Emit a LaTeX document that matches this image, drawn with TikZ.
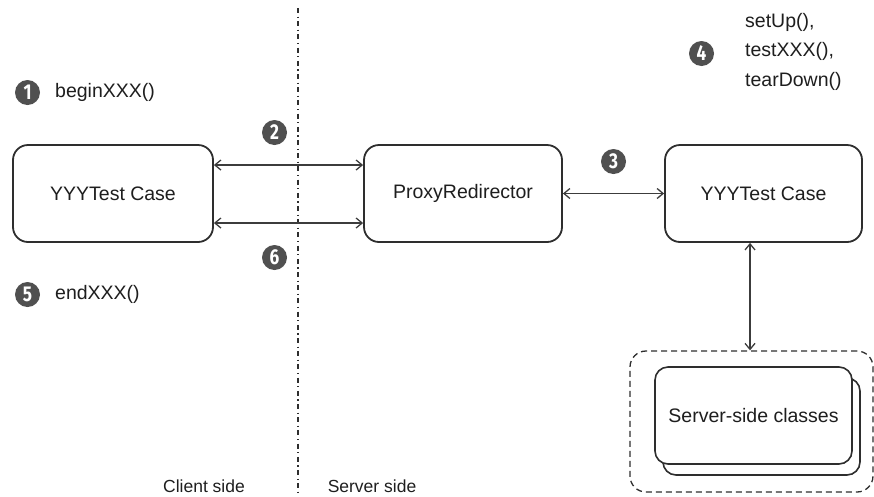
\documentclass[tikz,border=0pt]{standalone}
\usepackage{fontspec}
\setmainfont{Liberation Sans}
\newfontfamily\numfont[FakeStretch=0.8]{Fira Sans}
\usetikzlibrary{arrows.meta}
\definecolor{ln}{HTML}{2E2E2E}
\definecolor{arrc}{HTML}{3C3C3C}
\definecolor{circ}{HTML}{505050}
\definecolor{txt}{HTML}{1E1E1E}
\begin{document}
\begin{tikzpicture}[x=1pt,y=-1pt,
  box/.style={draw=ln,line width=1.8pt,rounded corners=15pt,fill=white,
    minimum height=97pt,inner sep=0pt,text=txt,font=\fontsize{19.5}{23}\selectfont},
  inbox/.style={draw=ln,line width=1.6pt,rounded corners=13pt,fill=white,inner sep=0pt,
    text=txt,font=\fontsize{19.5}{23}\selectfont},
  num/.style={circle,fill=circ,minimum size=25pt,inner sep=0pt,text=white,
    font=\numfont\bfseries\fontsize{21.5}{21.5}\selectfont},
  lbl/.style={anchor=west,inner sep=0pt,text=txt,font=\fontsize{19.5}{23}\selectfont},
  side/.style={anchor=base,inner sep=0pt,text=txt,font=\fontsize{17.5}{20}\selectfont},
  arr/.style={draw=arrc,line width=1.3pt,
    {Straight Barb[length=6pt,width=10pt]}-{Straight Barb[length=6pt,width=10pt]}},
  dashbox/.style={draw=ln,line width=1.3pt,dash pattern=on 6pt off 4pt,rounded corners=16pt}
]
\useasboundingbox (0,0) rectangle (874,496);

% separator
\coordinate (sepTop) at (298,8);
\coordinate (sepBot) at (298,496);
\draw[draw=ln,line width=1.2pt,dash pattern=on 5pt off 3.5pt on 1.2pt off 3.5pt] (sepTop) -- (sepBot);

% main boxes
\node[box,minimum width=200pt] (client) at (113,193.5) {YYYTest Case};
\node[box,minimum width=198pt] (proxy) at (463,193.5) {ProxyRedirector};
\node[box,minimum width=197pt] (server) at (763.5,193.5) {YYYTest Case};

% server-side classes group
\node[dashbox,minimum width=243pt,minimum height=141pt] (group) at (751.5,421.5) {};
\node[inbox,minimum width=197pt,minimum height=97pt] (back) at (761.5,426.5) {};
\node[inbox,minimum width=197pt,minimum height=97pt] (classes) at (753.5,415.5) {Server-side classes};

% connectors
\draw[arr] (client.east |- 0,165) -- (proxy.west |- 0,165);
\draw[arr] (client.east |- 0,223) -- (proxy.west |- 0,223);
\draw[arr] (proxy.east) -- (server.west);
\draw[arr] (server.south -| 750,0) -- (group.north -| 750,0);

% step markers
\node[num] (n1) at (27.5,92.5) {1};
\node[num] (n2) at (274.5,132.5) {2};
\node[num] (n3) at (613.5,161.5) {3};
\node[num] (n4) at (701.5,53.5) {4};
\node[num] (n5) at (27.5,294.5) {5};
\node[num] (n6) at (274.5,257.5) {6};

% labels
\node[lbl] (begin) at (55,92.5) {beginXXX()};
\node[lbl] (end) at (55,294.5) {endXXX()};
\node[lbl] (setup) at (745,22) {setUp(),};
\node[lbl] (testx) at (745,51.5) {testXXX(),};
\node[lbl] (teardown) at (745,81) {tearDown()};
\node[side] (cside) at (204,492.5) {Client side};
\node[side] (sside) at (372,492.5) {Server side};
\end{tikzpicture}
\end{document}
